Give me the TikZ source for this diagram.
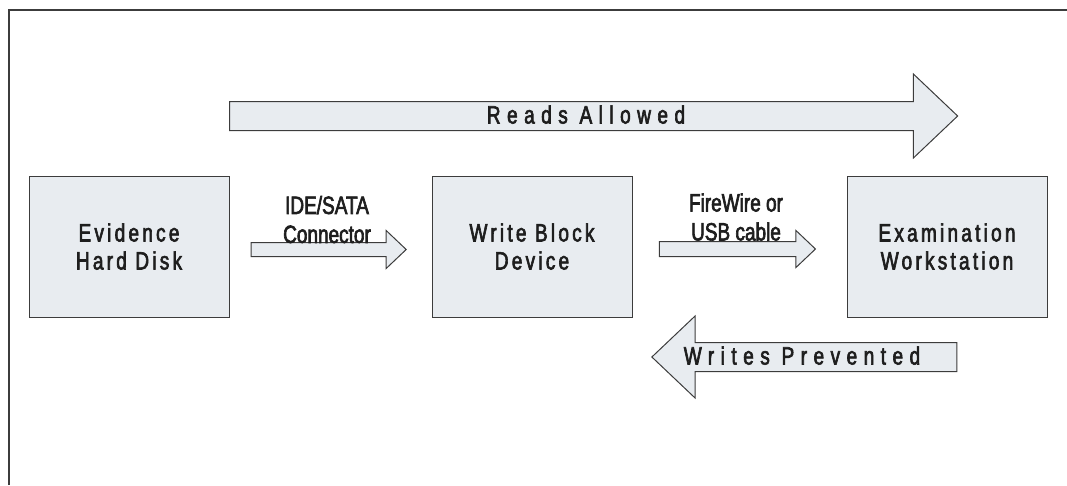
\documentclass[tikz,border=0pt]{standalone}
\usepackage{fontspec}
\setmainfont[FakeStretch=0.76,FakeBold=2.5]{Liberation Sans}
\newfontfamily\boxfont[FakeStretch=0.76,FakeBold=2.5,LetterSpace=13]{Liberation Sans}
\newfontfamily\arrowfont[FakeStretch=0.76,FakeBold=2.5,LetterSpace=26]{Liberation Sans}
\usetikzlibrary{positioning, calc, shapes.arrows}

\definecolor{boxfill}{RGB}{232,236,240}
\definecolor{edge}{RGB}{60,60,60}
\definecolor{ink}{RGB}{30,30,30}

\tikzset{
  device/.style={draw=edge, fill=boxfill, line width=1pt,
    minimum width=200pt, minimum height=141pt, align=center,
    text=ink, font=\boxfont\fontsize{25}{28}\selectfont},
  fatarrow/.style={single arrow, draw=edge, fill=boxfill, line width=1pt,
    single arrow tip angle=87, inner xsep=0pt, text=ink},
  biglabel/.style={font=\arrowfont\fontsize{25}{30}\selectfont,
    text height=21pt, text depth=6pt, inner ysep=0.5pt},
  cablelabel/.style={align=center, text=ink,
    font=\fontsize{25}{29}\selectfont}
}

\begin{document}
\begin{tikzpicture}[x=1pt, y=-1pt]
\useasboundingbox (0,0) rectangle (1067,485);
\draw[edge, line width=1.5pt] (9,485) -- (9,10) -- (1067,10);

\node[device] (hdd) at (129,246.5) {Evidence\\Hard Disk};
\node[device, right=202pt of hdd] (wbd) {Write Block\\Device};
\node[device, right=214pt of wbd] (exam) {Examination\\Workstation};

% cables between the devices
\node[fatarrow, minimum height=155pt, minimum width=37pt,
    single arrow head extend=12pt, inner ysep=0pt,
    text height=13pt, text depth=0pt]
    (ide) at ([xshift=-5.5pt,yshift=-3pt]$(hdd.east)!0.5!(wbd.west)$) {};
\node[fatarrow, minimum height=156pt, minimum width=36pt,
    single arrow head extend=11pt, inner ysep=0pt,
    text height=14pt, text depth=0pt]
    (usb) at ([xshift=-6pt,yshift=-2.5pt]$(wbd.east)!0.5!(exam.west)$) {};
\node[cablelabel] (idelbl) at ([xshift=2pt,yshift=30pt]ide.center)
    {IDE/SATA\\Connector};
\node[cablelabel] (usblbl) at ([xshift=2.5pt,yshift=32pt]usb.center)
    {FireWire or\\USB cable};

% read and write directions
\node[fatarrow, biglabel, minimum height=728pt, minimum width=83pt,
    single arrow head extend=27.5pt] (reads) at (586,116) {Reads Allowed};
\node[fatarrow, biglabel, shape border rotate=180, minimum height=305pt,
    minimum width=81pt, single arrow head extend=26.5pt]
    (writes) at (812,357) {};
\node[biglabel, text=ink] (writeslbl) at ([xshift=-10pt]writes.center)
    {Writes Prevented};
\end{tikzpicture}
\end{document}
